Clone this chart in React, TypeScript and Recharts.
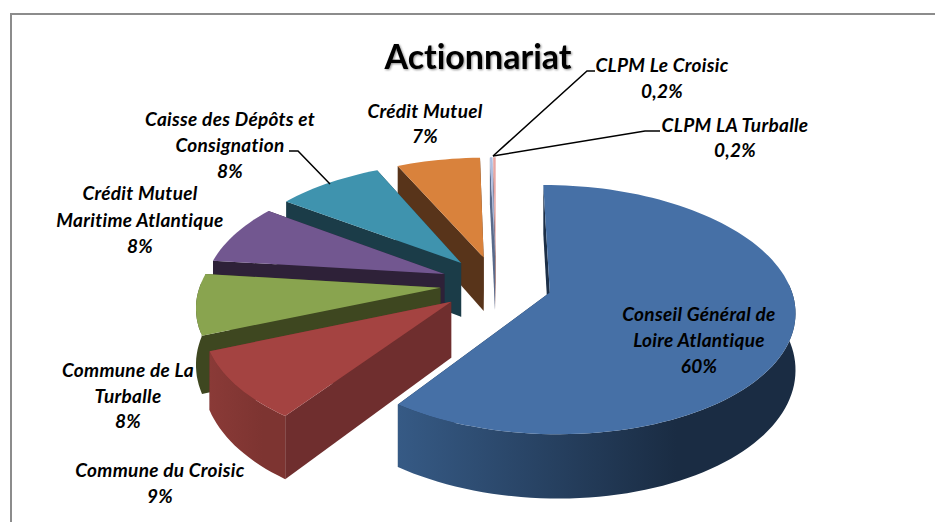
import { PieChart, Pie } from 'recharts'

// listed anticlockwise from the top, so recharts paints back slices first
const names = [
  'CLPM LA Turballe',
  'CLPM Le Croisic',
  'Crédit Mutuel',
  'Caisse des Dépôts et Consignation',
  'Crédit Mutuel Maritime Atlantique',
  'Commune de La Turballe',
  'Commune du Croisic',
  'Conseil Général de Loire Atlantique',
]
// the printed labels are rounded
const values = [0.2, 0.2, 6.5, 8.3, 8, 8, 9, 60]
const labelLines = [
  ['CLPM LA Turballe', '0,2%'],
  ['CLPM Le Croisic', '0,2%'],
  ['Crédit Mutuel', '7%'],
  ['Caisse des Dépôts et', 'Consignation', '8%'],
  ['Crédit Mutuel', 'Maritime Atlantique', '8%'],
  ['Commune de La', 'Turballe', '8%'],
  ['Commune du Croisic', '9%'],
  ['Conseil Général de', 'Loire Atlantique', '60%'],
]

const data = names.map((name, i) => ({ name, value: values[i], lines: labelLines[i] }))

const topColors = ['#e8a5a3', '#aebde0', '#d9823c', '#3f93ae', '#725790', '#89a44f', '#a44341', '#4670a6']
const radialColors = ['#8a5a5a', '#5a6a8a', '#58341a', '#1b3c48', '#2e2138', '#3e4720', '#6f2e2e', '#1c2f47']
const arcLeft = ['#8a5a5a', '#5a6a8a', '#58341a', '#1b3c48', '#2e2138', '#3e4720', '#8a3a37', '#365a85']
const arcRight = ['#8a5a5a', '#5a6a8a', '#58341a', '#1b3c48', '#2e2138', '#3e4720', '#7d3431', '#1a2c43']

const labelPos = [
  { x: 735, y: 132, dy: 25 },
  { x: 662, y: 72, dy: 26 },
  { x: 425, y: 118, dy: 25 },
  { x: 230, y: 126, dy: 26 },
  { x: 140, y: 200, dy: 26.5 },
  { x: 128, y: 377, dy: 25.5 },
  { x: 160, y: 477, dy: 26 },
  { x: 699, y: 321, dy: 26 },
]
const leaders: Record<number, string> = {
  0: '660,131 645,131 493,156',
  1: '595,71 587,71 493,156',
  3: '289,151 298,151 330,184',
}

const FLATTEN = 0.5
const PERSPECTIVE = 0.135
const EXPLODE = 0.233
const DEPTH = 55
const RAD = Math.PI / 180

function SliceShape(props: any) {
  const { cx, cy, outerRadius: R, startAngle, endAngle, midAngle, index } = props
  const ox = EXPLODE * Math.cos(midAngle * RAD)
  const oy = EXPLODE * Math.sin(midAngle * RAD)

  // disk coordinates -> screen, the far side of the disk shrinks a little
  const project = (u: number, v: number, down = 0) => {
    const s = 1 / (1 + PERSPECTIVE * v)
    return [cx + R * u * s, cy - R * FLATTEN * v * s + down * DEPTH * s]
  }
  const rim = (a: number, down = 0) =>
    project(ox + Math.cos(a * RAD), oy + Math.sin(a * RAD), down)
  const apex = (down = 0) => project(ox, oy, down)
  const toPath = (pts: number[][]) =>
    'M' + pts.map((p) => `${p[0].toFixed(1)},${p[1].toFixed(1)}`).join('L') + 'Z'

  const steps = Math.max(2, Math.ceil(Math.abs(endAngle - startAngle) / 2))
  const angles = Array.from({ length: steps + 1 }, (_, i) => startAngle + ((endAngle - startAngle) * i) / steps)
  const arc = angles.map((a) => rim(a))
  const front = angles.filter((a) => Math.sin(a * RAD) < 0.08)

  const top = toPath([apex(), ...arc])
  const wallA = toPath([apex(), rim(startAngle), rim(startAngle, 1), apex(1)])
  const wallB = toPath([apex(), rim(endAngle), rim(endAngle, 1), apex(1)])
  const outer =
    front.length > 1
      ? toPath([...front.map((a) => rim(a)), ...front.slice().reverse().map((a) => rim(a, 1))])
      : null
  const xs = arc.map((p) => p[0])
  const gradId = `arcGrad${index}`

  return (
    <g>
      <defs>
        <linearGradient
          id={gradId}
          gradientUnits="userSpaceOnUse"
          x1={Math.min(...xs)}
          x2={Math.max(...xs) - (Math.max(...xs) - Math.min(...xs)) * 0.3}
          y1={0}
          y2={0}
        >
          <stop offset="0" stopColor={arcLeft[index]} />
          <stop offset="1" stopColor={arcRight[index]} />
        </linearGradient>
      </defs>
      <path d={wallA} fill={radialColors[index]} />
      <path d={wallB} fill={radialColors[index]} />
      {outer && <path d={outer} fill={`url(#${gradId})`} />}
      <path d={top} fill={topColors[index]} />
    </g>
  )
}

function SliceLabel(props: any) {
  const { index } = props
  const pos = labelPos[index]
  const lines: string[] = labelLines[index]
  return (
    <g>
      {leaders[index] && <polyline points={leaders[index]} fill="none" stroke="#000" strokeWidth={1.5} />}
      <text
        x={pos.x}
        y={pos.y}
        textAnchor="middle"
        fontFamily="Lato"
        fontStyle="italic"
        fontWeight={700}
        fontSize={19}
        letterSpacing={0.3}
        fill="#000"
        style={{ fontVariantLigatures: 'none' }}
      >
        {lines.map((line, i) => (
          <tspan key={i} x={pos.x} y={pos.y + i * pos.dy}>
            {line}
          </tspan>
        ))}
      </text>
    </g>
  )
}

export default function App() {
  return (
    <div style={{ position: 'absolute', left: 0, top: 0, width: 935, height: 522, background: '#fff', overflow: 'hidden' }}>
      <div
        style={{
          position: 'absolute',
          left: 10,
          top: 13,
          width: 930,
          height: 520,
          borderLeft: '2px solid #8c8c8c',
          borderTop: '2px solid #8c8c8c',
        }}
      />
      <div style={{ position: 'absolute', left: 0, top: 0 }}>
        <PieChart width={935} height={522} margin={{ top: 0, right: 0, bottom: 0, left: 0 }}>
          <Pie
            data={data}
            dataKey="value"
            nameKey="name"
            cx={496}
            cy={284}
            innerRadius={0}
            outerRadius={240}
            startAngle={90}
            endAngle={450}
            stroke="none"
            shape={SliceShape}
            label={SliceLabel}
            labelLine={false}
            isAnimationActive={false}
          />
          <text
            x={478}
            y={69}
            textAnchor="middle"
            fontFamily="Lato"
            fontWeight={700}
            fontSize={34}
            fill="#000"
            style={{ fontVariantLigatures: 'none', filter: 'drop-shadow(1px 1px 1px rgba(0,0,0,0.45))' }}
          >
            Actionnariat
          </text>
        </PieChart>
      </div>
    </div>
  )
}
